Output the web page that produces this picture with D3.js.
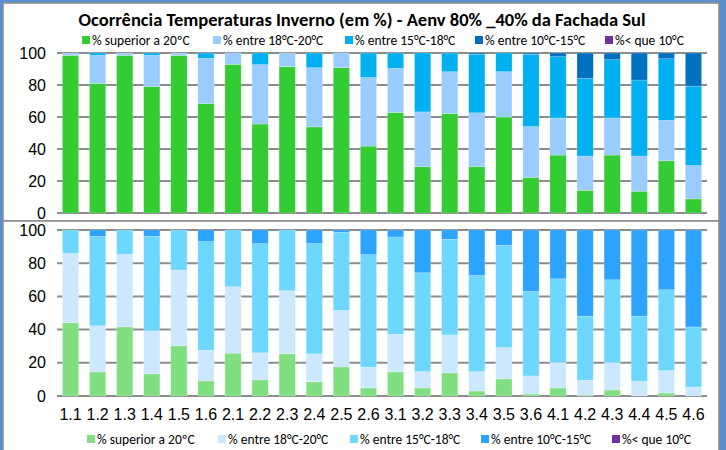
<!DOCTYPE html>
<html>
<head>
<meta charset="utf-8">
<script src="https://cdn.jsdelivr.net/npm/d3@7"></script>
<style>
  body { margin: 0; background: #5b8fd3; }
  svg { display: block; font-family: Carlito, Calibri, Lato, sans-serif; }
</style>
</head>
<body>
<div id="chart"></div>
<script>
const categories = ["1.1","1.2","1.3","1.4","1.5","1.6","2.1","2.2","2.3","2.4","2.5","2.6",
                    "3.1","3.2","3.3","3.4","3.5","3.6","4.1","4.2","4.3","4.4","4.5","4.6"]
const yTicks = [0, 20, 40, 60, 80, 100]
const seriesNames = ["% superior a 20ºC", "% entre 18°C-20°C", "% entre 15°C-18°C", "% entre 10°C-15°C", "%< que 10°C"]

// top chart
const topSup20 = [98.5,81,98.5,79,98.5,68.4,92.9,55.6,91.4,53.8,90.8,41.8,62.8,28.9,62.1,28.9,60,22.2,36.2,14.2,36.2,13.6,32.6,8.8]
const top18_20 = [1.5,17.5,1.5,19.5,1.5,28.3,7.1,37.1,8.6,37,9.2,42.9,27.6,34.3,26.2,33.7,28.3,31.8,23.2,21.4,23.2,22,25.3,20.9]
const top15_18 = [0,1.5,0,1.5,0,3.3,0,7.3,0,9.2,0,15.3,9.6,36.8,11.7,36.6,11.7,45.2,38.3,48.5,36.4,47.5,38.5,49.6]
const top10_15 = [0,0,0,0,0,0,0,0,0,0,0,0,0,0,0,0.8,0,0.8,2.3,15.9,4.2,16.9,3.6,20.7]
const topBelow10 = [0,0,0,0,0,0,0,0,0,0,0,0,0,0,0,0,0,0,0,0,0,0,0,0]

// bottom chart
const botSup20 = [44.1,14.5,41.6,13.3,30.2,9.1,25.8,9.7,25.4,8.5,17.5,4.8,14.5,4.8,13.9,3.0,10.3,1.2,4.8,0.4,3.6,0,1.8,0]
const bot18_20 = [41.8,27.8,43.7,25.9,45.7,18.5,40,16.3,38,16.9,34,12.5,22.7,9.9,22.9,11.7,18.9,10.9,15.3,9.1,16.5,8.9,13.5,5.4]
const bot15_18 = [14.1,53.9,14.7,57,24.1,65.4,34.2,65.8,36.6,66.4,47.1,67.8,58.6,59.5,57.6,57.9,61.7,50.9,50.5,38.6,49.9,39.2,48.7,36.2]
const bot10_15 = [0,3.8,0,3.8,0,7,0,8.2,0,8.2,1.4,14.9,4.2,25.8,5.6,27.4,9.1,37,29.4,51.9,30,51.9,36,58.4]
const botBelow10 = [0,0,0,0,0,0,0,0,0,0,0,0,0,0,0,0,0,0,0,0,0,0,0,0]

const topColors = ["#33cc33", "#99ccff", "#00b0f0", "#0070c0", "#7030a0"]
const botColors = ["#80df80", "#cce8ff", "#6dd7ff", "#2ca3ff", "#7030a0"]

const W = 726, H = 450
const svg = d3.select("#chart").append("svg").attr("width", W).attr("height", H)

// white panels
svg.append("rect").attr("x", 3).attr("y", 3).attr("width", 716).attr("height", 218)
    .attr("fill", "#fff").attr("stroke", "#8c8c8c").attr("stroke-width", 1.5)
svg.append("rect").attr("x", 3).attr("y", 221).attr("width", 716).attr("height", 235)
    .attr("fill", "#fff").attr("stroke", "#8c8c8c").attr("stroke-width", 1.5)

const x = d3.scaleBand().domain(categories).range([57, 707]).paddingInner(0.4).paddingOuter(0.2)

function buildRows(arrs) {
    return categories.map((c, i) => {
        const row = { cat: c }
        seriesNames.forEach((s, k) => row[s] = arrs[k][i])
        return row
    })
}

function drawPanel(rows, colors, y0, y1, showX) {
    const y = d3.scaleLinear().domain([0, 100]).range([y1, y0])
    const g = svg.append("g")

    // gridlines
    g.append("g").selectAll("line").data(yTicks).join("line")
        .attr("x1", 57).attr("x2", 707)
        .attr("y1", d => y(d)).attr("y2", d => y(d))
        .attr("stroke", "#8c8c8c").attr("stroke-width", 2)

    const yAxis = g.append("g").attr("transform", "translate(46,0)")
        .call(d3.axisLeft(y).tickValues(yTicks).tickSize(0).tickPadding(0))
    yAxis.select(".domain").remove()
    yAxis.selectAll("text").attr("font-size", 16).attr("fill", "#000").attr("font-family", null)

    const stacked = d3.stack().keys(seriesNames)(rows)
    g.append("g").selectAll("g").data(stacked).join("g")
        .attr("fill", (d, i) => colors[i])
        .selectAll("rect").data(d => d).join("rect")
        .attr("x", d => x(d.data.cat))
        .attr("width", x.bandwidth())
        .attr("y", d => y(d[1]))
        .attr("height", d => y(d[0]) - y(d[1]))
        .attr("stroke", "#ffffff").attr("stroke-opacity", 0.35).attr("stroke-width", 0.6)

    if (showX) {
        const xAxis = g.append("g").attr("transform", `translate(0,${y1 + 10})`)
            .call(d3.axisBottom(x).tickSize(0).tickPadding(0))
        xAxis.select(".domain").remove()
        xAxis.selectAll("text").attr("font-size", 16).attr("fill", "#000")
            .attr("font-family", null).attr("dy", "0.9em")
    }
}

function drawLegend(colors, yPos, xs) {
    const lg = svg.append("g")
    seriesNames.forEach((s, i) => {
        lg.append("rect").attr("x", xs[i]).attr("y", yPos - 5).attr("width", 8).attr("height", 8)
            .attr("fill", colors[i])
        lg.append("text").attr("x", xs[i] + 10).attr("y", yPos + 4)
            .attr("font-size", 13.5).text(s)
    })
}

svg.append("text").attr("x", 362).attr("y", 26).attr("text-anchor", "middle")
    .attr("font-size", 18.5).attr("font-weight", "bold")
    .text("Ocorrência Temperaturas Inverno (em %) - Aenv 80% _40% da Fachada  Sul")

drawLegend(topColors, 41, [82, 213, 345, 475, 605])
drawPanel(buildRows([topSup20, top18_20, top15_18, top10_15, topBelow10]), topColors, 53, 213, false)

drawPanel(buildRows([botSup20, bot18_20, bot15_18, bot10_15, botBelow10]), botColors, 230, 396, true)
drawLegend(botColors, 440, [87, 218, 350, 481, 612])
</script>
</body>
</html>
